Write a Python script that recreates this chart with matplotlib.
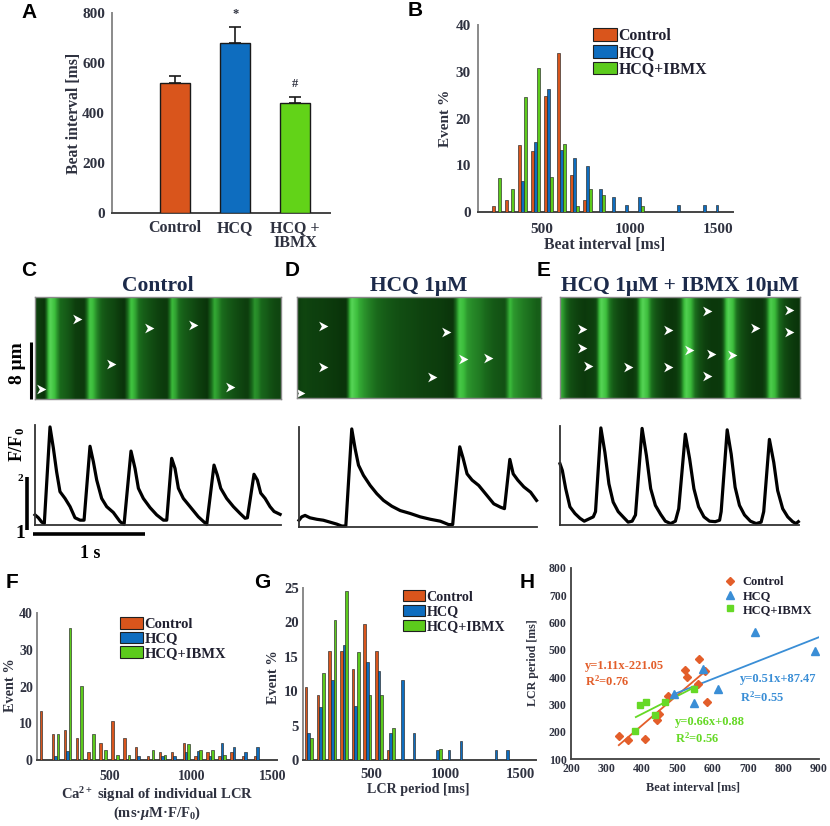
import matplotlib
matplotlib.use('Agg')
import matplotlib.pyplot as plt
import numpy as np
from matplotlib.colors import LinearSegmentedColormap
from matplotlib.path import Path
from matplotlib.patches import Patch

plt.rcParams['font.family'] = ['Liberation Serif', 'DejaVu Serif']
plt.rcParams['font.weight'] = 'bold'
plt.rcParams['mathtext.fontset'] = 'custom'
plt.rcParams['mathtext.rm'] = 'Liberation Serif:bold'
plt.rcParams['mathtext.bf'] = 'Liberation Serif:bold'
plt.rcParams['mathtext.it'] = 'Liberation Serif:italic:bold'

# ---------------- data ----------------
groups = ['Control', 'HCQ', 'HCQ+IBMX']
a_labels = ['Control', 'HCQ', 'HCQ +\nIBMX']
a_mean = [520, 680, 440]
a_sem = [28, 64, 24]
a_marks = ['', '*', '#']

# B: beat interval histogram (event %)
b_bins = [242, 316, 390, 463, 537, 611, 684, 758, 832, 905, 979, 1053, 1126, 1200, 1273, 1347, 1421, 1494]
b_ctrl = [1.2, 2.6, 14.4, 13.1, 24.9, 34.0, 7.9, 2.6, 0, 0, 0, 0, 0, 0, 0, 0, 0, 0]
b_hcq = [0, 0, 6.6, 14.9, 26.4, 13.2, 11.5, 9.9, 4.9, 3.2, 1.6, 3.2, 0, 0, 1.6, 0, 1.6, 1.6]
b_ibmx = [7.3, 4.9, 24.6, 30.7, 7.4, 14.6, 1.2, 4.9, 3.6, 0, 0, 1.2, 0, 0, 0, 0, 0, 0]

# F: Ca2+ signal of individual LCR histogram
f_bins = [92, 165, 238, 311, 384, 457, 530, 603, 676, 749, 822, 895, 968, 1041, 1114, 1187, 1260, 1333, 1406]
f_ctrl = [13.2, 7.1, 8.2, 5.9, 2.2, 4.7, 10.7, 5.9, 3.5, 1.0, 2.3, 2.3, 4.7, 1.1, 2.3, 1.1, 2.3, 1.1, 1.1]
f_hcq = [0, 1.1, 2.5, 0, 0, 0, 0, 0, 1.1, 0, 1.2, 1.1, 2.3, 2.5, 1.1, 4.7, 3.5, 2.3, 3.5]
f_ibmx = [0, 7.1, 35.9, 20.2, 7.1, 2.7, 1.4, 1.4, 0, 2.7, 1.4, 0, 4.3, 2.7, 2.8, 1.4, 0, 0, 0]

# G: LCR period histogram
g_bins = [83, 162, 240, 319, 397, 476, 554, 633, 711, 790, 868, 947, 1025, 1104, 1182, 1261, 1339, 1418]
g_ctrl = [10.6, 9.4, 15.9, 15.9, 13.2, 19.8, 15.9, 1.4, 0, 0, 0, 0, 0, 0, 0, 0, 0, 0]
g_hcq = [3.9, 7.7, 11.7, 16.7, 7.9, 14.2, 12.9, 3.9, 11.6, 3.9, 0, 1.4, 1.4, 2.7, 0, 0, 1.4, 1.4]
g_ibmx = [3.2, 12.6, 20.4, 24.6, 15.7, 9.5, 9.5, 4.7, 0, 0, 0, 1.6, 0, 0, 0, 0, 0, 0]

# H: LCR period vs beat interval
h_ctrl_x = [336, 362, 408, 443, 448, 473, 523, 528, 560, 558, 584, 579]
h_ctrl_y = [183, 168, 173, 244, 266, 330, 427, 401, 466, 375, 308, 424]
h_hcq_x = [490, 546, 572, 616, 719, 890]
h_hcq_y = [339, 305, 430, 357, 564, 495]
h_ibmx_x = [381, 395, 413, 436, 465, 548]
h_ibmx_y = [201, 299, 309, 262, 308, 356]
h_fits = {  # slope, intercept, x-range, equation text, R2 text
    'Control': (1.11, -221.05, (335, 580), 'y=1.11x-221.05', 'R$^2$=0.76'),
    'HCQ': (0.51, 87.47, (490, 900), 'y=0.51x+87.47', 'R$^2$=0.55'),
    'HCQ+IBMX': (0.66, 0.88, (383, 548), 'y=0.66x+0.88', 'R$^2$=0.56'),
}

# Ca2+ transients (time s, F/F0)
c_t = [0.0, 0.03, 0.06, 0.083, 0.134, 0.164, 0.193, 0.223, 0.268, 0.313, 0.357, 0.402, 0.438,
       0.491, 0.521, 0.551, 0.595, 0.640, 0.699, 0.759, 0.795, 0.857, 0.893, 0.923, 0.967, 1.027,
       1.086, 1.146, 1.176, 1.220, 1.250, 1.280, 1.324, 1.384, 1.458, 1.533, 1.598, 1.628, 1.658,
       1.711, 1.771, 1.830, 1.875, 1.896, 1.955, 1.985, 2.015, 2.054, 2.098, 2.134, 2.188]
c_f = [1.21, 1.15, 1.06, 1.03, 3.03, 2.59, 2.10, 1.69, 1.55, 1.38, 1.15, 1.10, 1.10,
       2.63, 2.31, 1.93, 1.55, 1.38, 1.26, 1.07, 1.01, 2.53, 2.17, 1.76, 1.55, 1.36,
       1.21, 1.10, 1.10, 2.38, 2.17, 1.76, 1.55, 1.38, 1.17, 1.01, 2.24, 2.03, 1.76,
       1.55, 1.38, 1.24, 1.14, 1.15, 2.05, 1.93, 1.66, 1.55, 1.38, 1.28, 1.22]
d_t = [0.0, 0.024, 0.054, 0.098, 0.158, 0.217, 0.277, 0.336, 0.381, 0.417, 0.470, 0.500, 0.530,
       0.574, 0.634, 0.693, 0.753, 0.827, 0.902, 0.991, 1.080, 1.170, 1.259, 1.333, 1.369, 1.432,
       1.461, 1.497, 1.542, 1.601, 1.661, 1.735, 1.795, 1.830, 1.878, 1.908, 1.949, 2.003, 2.063, 2.116]
d_f = [1.14, 1.21, 1.24, 1.19, 1.16, 1.14, 1.10, 1.06, 1.02, 1.02, 3.03, 2.62, 2.28,
       2.07, 1.86, 1.69, 1.55, 1.43, 1.34, 1.28, 1.21, 1.16, 1.12, 1.05, 1.05, 2.66,
       2.43, 2.10, 1.97, 1.86, 1.69, 1.48, 1.41, 1.38, 2.40, 2.10, 1.97, 1.83, 1.72, 1.55]
e_t = [0.0, 0.021, 0.051, 0.089, 0.134, 0.179, 0.217, 0.253, 0.298, 0.318, 0.366, 0.402, 0.438,
       0.476, 0.521, 0.565, 0.610, 0.646, 0.676, 0.735, 0.774, 0.812, 0.854, 0.902, 0.943, 0.991,
       1.033, 1.063, 1.122, 1.161, 1.199, 1.241, 1.289, 1.339, 1.390, 1.429, 1.443, 1.497, 1.533,
       1.568, 1.607, 1.652, 1.705, 1.756, 1.801, 1.824, 1.875, 1.914, 1.949, 1.994, 2.039, 2.083,
       2.113, 2.134]
e_f = [2.28, 2.14, 1.76, 1.38, 1.24, 1.14, 1.08, 1.12, 1.17, 1.28, 3.03, 2.52, 1.86,
       1.48, 1.28, 1.17, 1.06, 1.08, 1.21, 3.02, 2.45, 1.76, 1.41, 1.22, 1.08, 1.03,
       1.08, 1.34, 2.90, 2.38, 1.76, 1.38, 1.17, 1.08, 1.07, 1.10, 1.28, 2.99, 2.48,
       1.79, 1.41, 1.21, 1.08, 1.03, 1.06, 1.28, 2.79, 2.31, 1.72, 1.34, 1.17, 1.07,
       1.03, 1.07]

# LCR arrowheads in the line scans (time s, position um from top)
c_lcr_t = [0.372, 0.679, 1.021, 1.414, 1.741, 0.051]
c_lcr_y = [3.13, 9.45, 4.4, 3.97, 12.58, 12.96]
d_lcr_t = [0.217, 0.217, 0.009, 1.310, 1.185, 1.467, 1.690]
d_lcr_y = [4.16, 9.92, 13.66, 4.96, 11.32, 8.75, 8.70]
e_lcr_t = [0.193, 0.193, 0.247, 0.610, 0.967, 0.967, 1.307, 1.146, 1.345, 1.533, 1.307, 1.735, 2.045, 2.039]
e_lcr_y = [4.54, 7.2, 9.77, 9.92, 4.63, 9.92, 1.96, 7.44, 8.04, 8.23, 11.18, 4.40, 1.82, 4.96]

scan_height = 14.3  # um

# ---------------- style ----------------
W, H = 830, 826
C_ORANGE, C_BLUE, C_GREEN = '#D9551C', '#0E6DBF', '#5CCB1C'
H_ORANGE, H_BLUE, H_GREEN = '#E35E2A', '#3A8ED6', '#66D926'
TXT = '#2f3240'
NAVY = '#1c2a4a'

fig = plt.figure(figsize=(W / 100, H / 100), dpi=100)


def box(l, t, r, b):
    return [l / W, 1 - b / H, (r - l) / W, (b - t) / H]


def ftxt(x, y, s, **kw):
    kw.setdefault('ha', 'center')
    kw.setdefault('va', 'center')
    fig.text(x / W, 1 - y / H, s, **kw)


def excel_axes(ax, size):
    ax.spines[['top', 'right']].set_visible(False)
    ax.spines['left'].set_color('#8a8a8a')
    ax.spines['bottom'].set_color('#444444')
    ax.spines['left'].set_linewidth(1.4)
    ax.spines['bottom'].set_linewidth(1.4)
    ax.tick_params(length=0, colors=TXT, labelsize=size)


def hist_bars(ax, bins, series, offsets, width, colors):
    for vals, off, col in zip(series, offsets, colors):
        xs = [b + off for b, v in zip(bins, vals) if v > 0]
        hs = [v for v in vals if v > 0]
        ax.bar(xs, hs, width=width, color=col, edgecolor='#262626', linewidth=0.45, zorder=3)


def bar_legend(ax, colors, x, y, size, hl, hh, ls):
    handles = [Patch(facecolor=c, edgecolor='#202020', linewidth=0.8) for c in colors]
    ax.legend(handles, groups, loc='upper left', bbox_to_anchor=(x / W, 1 - y / H),
              bbox_transform=fig.transFigure, frameon=False, borderpad=0, borderaxespad=0,
              handlelength=hl, handleheight=hh, handletextpad=0.1, labelspacing=ls,
              prop={'family': 'Liberation Serif', 'weight': 'bold', 'size': size},
              labelcolor='#202030')


# ---------------- A ----------------
axA = fig.add_axes(box(112, 13, 330, 213))
xa = np.arange(len(groups))
axA.bar(xa, a_mean, width=0.5, color=[C_ORANGE, C_BLUE, '#62D318'], edgecolor='#1a1a1a',
        linewidth=1.0, zorder=3)
axA.errorbar(xa, a_mean, yerr=[[0] * 3, a_sem], fmt='none', ecolor='#1a1a1a', elinewidth=1.2,
             capsize=4, capthick=1.2, zorder=4)
for xi, m, s, mk in zip(xa, a_mean, a_sem, a_marks):
    if mk:
        axA.annotate(mk, (xi, m + s), xytext=(0, 5), textcoords='offset points', ha='center',
                     va='bottom', fontsize=9, color=TXT)
axA.set_xlim(-1.05, 2.58)
axA.set_ylim(0, 800)
axA.set_yticks([0, 200, 400, 600, 800])
axA.set_xticks(xa)
axA.set_xticklabels(a_labels, linespacing=0.95)
excel_axes(axA, 11)
axA.tick_params(axis='x', pad=5, labelsize=11.5)
axA.tick_params(axis='y', pad=5)
ftxt(74, 113, 'Beat interval [ms]', rotation=90, fontsize=11.3, color=TXT)

# ---------------- B ----------------
axB = fig.add_axes(box(478, 25, 733, 212))
hist_bars(axB, b_bins, [b_ctrl, b_hcq, b_ibmx], [-16, 0, 16], 16, [C_ORANGE, C_BLUE, C_GREEN])
axB.set_xlim(136, 1585)
axB.set_ylim(0, 40)
axB.set_xticks([500, 1000, 1500])
axB.set_yticks([0, 10, 20, 30, 40])
excel_axes(axB, 11)
axB.tick_params(axis='x', pad=8)
axB.tick_params(axis='y', pad=5)
bar_legend(axB, [C_ORANGE, C_BLUE, C_GREEN], 593, 28, 11.4, 1.5, 0.85, 0.05)
ftxt(445, 118, 'Event %', rotation=90, fontsize=11, color=TXT)
ftxt(605, 245, 'Beat interval [ms]', fontsize=11.3, color=TXT)

# ---------------- C, D, E line scans + traces ----------------
gcmap = LinearSegmentedColormap.from_list('scan', ['#0a330a', '#1a6a1c', '#3cbd3c', '#5ad85a'])
chevron = Path([(-0.9, 1), (1, 0), (-0.9, -1), (-0.35, 0), (-0.9, 1)],
               [Path.MOVETO, Path.LINETO, Path.LINETO, Path.LINETO, Path.CLOSEPOLY])

panels = [
    ('Control', c_t, c_f, c_lcr_t, c_lcr_y, box(35, 297, 281, 399), (0, 2.196),
     box(35, 425, 281, 525), (0, 2.196)),
    ('HCQ 1μM', d_t, d_f, d_lcr_t, d_lcr_y, box(297, 297, 541, 398), (-0.018, 2.16),
     box(299, 427, 537, 527), (0, 2.12)),
    ('HCQ 1μM + IBMX 10μM', e_t, e_f, e_lcr_t, e_lcr_y, box(560, 297, 800, 398), (0, 2.14),
     box(560, 426, 799, 525), (0, 2.14)),
]
trace_axes = []
for title, tt, ff, lt, ly, img_box, img_ext, tr_box, tr_lim in panels:
    axi = fig.add_axes(img_box)
    tgrid = np.linspace(img_ext[0], img_ext[1], 500)
    row = np.interp(tgrid, tt, ff)
    img = np.tile(row, (40, 1))
    axi.imshow(img, cmap=gcmap, vmin=1.0, vmax=3.1, aspect='auto',
               extent=(img_ext[0], img_ext[1], scan_height, 0), interpolation='bilinear')
    axi.plot(lt, ly, linestyle='none', marker=chevron, markersize=7, color='white',
             markeredgewidth=0)
    axi.set_xlim(img_ext)
    axi.set_ylim(scan_height, 0)
    axi.set_xticks([])
    axi.set_yticks([])
    for sp in axi.spines.values():
        sp.set_color('#8a8a8a')
        sp.set_linewidth(1.0)
    axi.set_title(title, fontsize=15.5, color=NAVY, pad=4, fontweight='bold')

    axt = fig.add_axes(tr_box)
    axt.plot(tt, ff, color='black', linewidth=2.3, clip_on=False, solid_joinstyle='round')
    axt.set_xlim(tr_lim)
    axt.set_ylim(1.0, 3.07)
    axt.spines[['top', 'right']].set_visible(False)
    for sp in ('left', 'bottom'):
        axt.spines[sp].set_color('#333333')
        axt.spines[sp].set_linewidth(1.3)
    axt.set_xticks([])
    axt.set_yticks([])
    axt.patch.set_alpha(0)
    trace_axes.append((axi, axt))

# scale bars (1 s, 1 F/F0 unit, 8 um) on panel C
axCi, axCt = trace_axes[0]
axCt.plot([-0.071, -0.071], [0.9, 2.0], color='black', linewidth=2.6, clip_on=False,
          solid_capstyle='butt')
axCt.plot([-0.018, -0.018 + 1.0], [0.81, 0.81], color='black', linewidth=2.6, clip_on=False,
          solid_capstyle='butt')
axCi.plot([-0.036, -0.036], [scan_height, scan_height - 8], color='black', linewidth=2.2,
          clip_on=False, solid_capstyle='butt')
ftxt(18, 363, '8 μm', rotation=90, fontsize=14)
ftxt(17, 444, 'F/F$_\\mathbf{0}$', rotation=90, fontsize=13)
ftxt(20, 478, '2', fontsize=8)
ftxt(20, 534, '1', fontsize=14)
ftxt(90, 554, '1 s', fontsize=13)

# ---------------- F ----------------
axF = fig.add_axes(box(37, 613, 277, 760))
hist_bars(axF, f_bins, [f_ctrl, f_hcq, f_ibmx], [-15, 0, 15], 15, [C_ORANGE, C_BLUE, C_GREEN])
axF.set_xlim(52, 1525)
axF.set_ylim(0, 40)
axF.set_xticks([500, 1000, 1500])
axF.set_yticks([0, 10, 20, 30, 40])
excel_axes(axF, 10)
axF.tick_params(axis='x', pad=7)
axF.tick_params(axis='y', pad=3)
bar_legend(axF, [C_ORANGE, C_BLUE, C_GREEN], 120, 617, 10.5, 1.57, 0.85, 0.05)
ftxt(10, 685, 'Event %', rotation=90, fontsize=10.3, color=TXT)
ftxt(157, 795, 'Ca$^{\\mathbf{2+}}$ signal of individual LCR', fontsize=10.5, color=TXT)
ftxt(157, 813, '(ms·$\\mathit{\\mu}$M·F/F$_\\mathbf{0}$)', fontsize=10.5, color=TXT)

# ---------------- G ----------------
axG = fig.add_axes(box(303, 588, 536, 760))
hist_bars(axG, g_bins, [g_ctrl, g_hcq, g_ibmx], [-18, 0, 18], 18, [C_ORANGE, C_BLUE, C_GREEN])
axG.set_xlim(44, 1608)
axG.set_ylim(0, 25)
axG.set_xticks([500, 1000, 1500])
axG.set_yticks([0, 5, 10, 15, 20, 25])
excel_axes(axG, 10.5)
axG.tick_params(axis='x', pad=6)
axG.tick_params(axis='y', pad=3)
bar_legend(axG, [C_ORANGE, C_BLUE, C_GREEN], 403, 590, 10.2, 1.55, 0.85, 0.1)
ftxt(273, 677, 'Event %', rotation=90, fontsize=10.3, color=TXT)
ftxt(418, 790, 'LCR period [ms]', fontsize=10.2, color=TXT)

# ---------------- H ----------------
axH = fig.add_axes(box(571, 568, 819, 759))
axH.plot(h_ctrl_x, h_ctrl_y, linestyle='none', marker='D', markersize=4.2, color=H_ORANGE,
         label='Control', zorder=3)
axH.plot(h_hcq_x, h_hcq_y, linestyle='none', marker='^', markersize=5.5, color=H_BLUE,
         label='HCQ', zorder=3)
axH.plot(h_ibmx_x, h_ibmx_y, linestyle='none', marker='s', markersize=4.3, color=H_GREEN,
         label='HCQ+IBMX', zorder=3)
fit_colors = {'Control': H_ORANGE, 'HCQ': H_BLUE, 'HCQ+IBMX': H_GREEN}
for g in groups:
    slope, icpt, (x0, x1), _, _ = h_fits[g]
    xs = np.array([x0, x1])
    axH.plot(xs, slope * xs + icpt, color=fit_colors[g], linewidth=1.3, zorder=2)
axH.set_xlim(200, 900)
axH.set_ylim(100, 800)
axH.set_xticks(range(200, 901, 100))
axH.set_yticks(range(100, 801, 100))
axH.spines[['top', 'right']].set_visible(False)
for sp in ('left', 'bottom'):
    axH.spines[sp].set_color('#404040')
    axH.spines[sp].set_linewidth(1.3)
axH.tick_params(length=0, colors=TXT, labelsize=8.5, pad=3)
axH.legend(loc='upper left', bbox_to_anchor=(724 / W, 1 - 576 / H), bbox_transform=fig.transFigure,
           frameon=False, borderpad=0, borderaxespad=0, handlelength=1.0, handletextpad=0.5,
           labelspacing=0.15, prop={'family': 'Liberation Serif', 'weight': 'bold', 'size': 9},
           labelcolor='#202030')
eq_pos = {'Control': ((585, 666), (585, 681)), 'HCQ': ((740, 679), (740, 697)),
          'HCQ+IBMX': ((675, 722), (675, 738))}
for g in groups:
    (ex, ey), (rx, ry) = eq_pos[g]
    ftxt(ex, ey, h_fits[g][3], ha='left', fontsize=9, color=fit_colors[g])
    ftxt(rx, ry, h_fits[g][4], ha='left', fontsize=9, color=fit_colors[g])
ftxt(533, 663, 'LCR period [ms]', rotation=90, fontsize=8.6, color=TXT)
ftxt(693, 787, 'Beat interval [ms]', fontsize=8.8, color=TXT)

# ---------------- panel letters ----------------
for letter, x, y in [('A', 29, 12), ('B', 415, 11), ('C', 29, 271), ('D', 292, 271),
                     ('E', 544, 271), ('F', 12, 582), ('G', 262, 582), ('H', 527, 582)]:
    ftxt(x, y, letter, fontsize=15, family='Liberation Sans', fontweight='bold', color='black')

fig.savefig('out.png', dpi=100)
